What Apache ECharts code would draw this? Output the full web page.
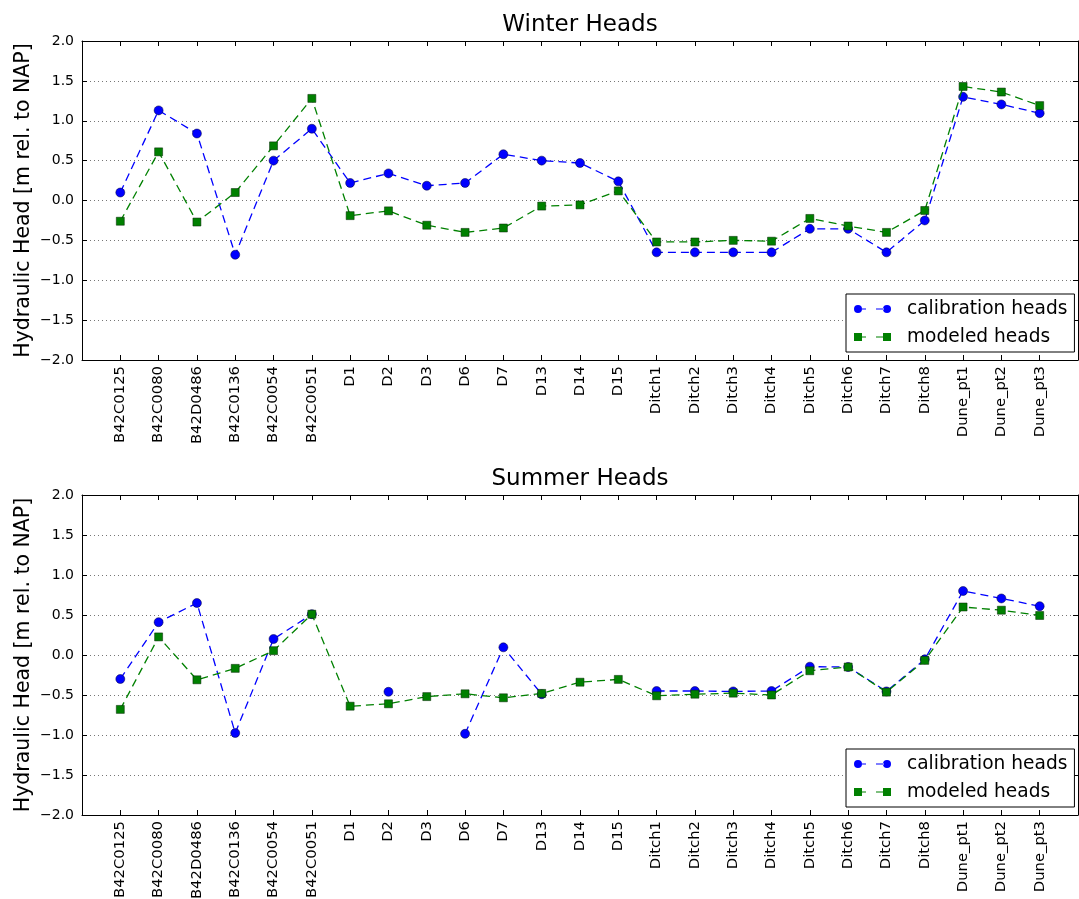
<!DOCTYPE html>
<html>
<head>
<meta charset="utf-8">
<title>Winter and Summer Heads</title>
<script src="https://cdn.jsdelivr.net/npm/echarts@6/dist/echarts.min.js"></script>
<style>
  html, body { margin: 0; padding: 0; background: #fff; }
  #chart { width: 1079px; height: 899px; }
</style>
</head>
<body>
<div id="chart"></div>
<script>
// Observation locations along the x axis
const categories = ['B42C0125', 'B42C0080', 'B42D0486', 'B42C0136', 'B42C0054', 'B42C0051',
  'D1', 'D2', 'D3', 'D6', 'D7', 'D13', 'D14', 'D15',
  'Ditch1', 'Ditch2', 'Ditch3', 'Ditch4', 'Ditch5', 'Ditch6', 'Ditch7', 'Ditch8',
  'Dune_pt1', 'Dune_pt2', 'Dune_pt3'];

// Winter heads [m rel. to NAP]
const winterCalibration = [0.10, 1.13, 0.84, -0.68, 0.50, 0.90,
  0.22, 0.34, 0.185, 0.22, 0.58, 0.50, 0.47, 0.24,
  -0.65, -0.65, -0.65, -0.65, -0.355, -0.355, -0.65, -0.25,
  1.30, 1.205, 1.095];
const winterModeled = [-0.26, 0.61, -0.27, 0.10, 0.685, 1.28,
  -0.19, -0.13, -0.31, -0.40, -0.345, -0.07, -0.055, 0.12,
  -0.52, -0.52, -0.50, -0.51, -0.225, -0.32, -0.40, -0.125,
  1.43, 1.36, 1.19];

// Summer heads [m rel. to NAP]; null = no calibration measurement
const summerCalibration = [-0.30, 0.41, 0.65, -0.975, 0.20, 0.51,
  null, -0.46, null, -0.985, 0.096, -0.49, null, null,
  -0.45, -0.45, -0.455, -0.45, -0.146, -0.15, -0.455, -0.054,
  0.80, 0.707, 0.61];
const summerModeled = [-0.68, 0.226, -0.31, -0.167, 0.054, 0.51,
  -0.64, -0.61, -0.52, -0.485, -0.535, -0.48, -0.34, -0.305,
  -0.51, -0.49, -0.477, -0.50, -0.197, -0.15, -0.464, -0.067,
  0.60, 0.56, 0.494];

const yTicks = [-2.0, -1.5, -1.0, -0.5, 0.0, 0.5, 1.0, 1.5, 2.0];
const seriesNames = ['calibration heads', 'modeled heads'];
const chartTitles = ['Winter Heads', 'Summer Heads'];
const yAxisTitle = 'Hydraulic Head [m rel. to NAP]';

const FONT = 'DejaVu Sans';
const BLUE = '#0000ff';
const GREEN = '#008000';
const DASH = [8, 5];

const chart = echarts.init(document.getElementById('chart'), null, { renderer: 'canvas' });

const pairs = arr => arr.map((v, i) => [i, v]);
const fmtY = v => {
  const r = Math.round(v * 10) / 10;
  return (r < 0 ? '\u2212' : '') + Math.abs(r).toFixed(1);
};

// Legend keys: marker, dashed line segment, marker
const circleAt = cx => `M${cx - 4},4 A4,4 0 1,0 ${cx + 4},4 A4,4 0 1,0 ${cx - 4},4 Z`;
const squareAt = cx => `M${cx - 4},0 L${cx + 4},0 L${cx + 4},8 L${cx - 4},8 Z`;
const dashes = 'M8,3.4 L12,3.4 L12,4.6 L8,4.6 Z M22,3.4 L30,3.4 L30,4.6 L22,4.6 Z';
const legendIcons = [
  'path://' + circleAt(4) + ' ' + dashes + ' ' + circleAt(33),
  'path://' + squareAt(4) + ' ' + dashes + ' ' + squareAt(33)
];

// Fixed plot rectangles; station names may run off the bottom edge
const grids = [
  { left: 82, right: 1, top: 41, height: 319, outerBoundsMode: 'none', containLabel: false },
  { left: 82, right: 1, top: 495, height: 320, outerBoundsMode: 'none', containLabel: false }
];

const frameLine = { show: true, onZero: false, lineStyle: { color: '#000', width: 1 } };
const inTick = { show: true, inside: true, length: 5, lineStyle: { color: '#000' } };

const xAxes = [];
const yAxes = [];
grids.forEach((g, gi) => {
  // bottom axis with rotated station names
  xAxes.push({
    type: 'value', gridIndex: gi, position: 'bottom', min: -1, max: 25, interval: 1,
    axisLine: frameLine, axisTick: inTick,
    axisLabel: {
      rotate: 90, margin: 6, fontFamily: FONT, fontSize: 14.8, color: '#000',
      formatter: v => (v >= 0 && v < categories.length ? categories[v] : ''),
      showMinLabel: false, showMaxLabel: false
    },
    splitLine: { show: false }
  });
  // top frame with tick marks
  xAxes.push({
    type: 'value', gridIndex: gi, position: 'top', min: -1, max: 25, interval: 1,
    axisLine: frameLine, axisTick: inTick,
    axisLabel: { show: false },
    splitLine: { show: false }
  });
  yAxes.push({
    type: 'value', gridIndex: gi, position: 'left', min: yTicks[0], max: yTicks[yTicks.length - 1], interval: 0.5,
    name: yAxisTitle, nameLocation: 'middle', nameGap: 48, nameRotate: 90, nameMoveOverlap: false,
    nameTextStyle: { fontFamily: FONT, fontSize: 20.5, color: '#000' },
    axisLine: frameLine, axisTick: inTick,
    axisLabel: { fontFamily: FONT, fontSize: 14, color: '#000', margin: 8, formatter: fmtY },
    splitLine: { show: true, lineStyle: { color: '#777', width: 1, type: [1, 3] } }
  });
  yAxes.push({
    type: 'value', gridIndex: gi, position: 'right', min: yTicks[0], max: yTicks[yTicks.length - 1], interval: 0.5,
    axisLine: frameLine, axisTick: inTick,
    axisLabel: { show: false },
    splitLine: { show: false }
  });
});

function makeSeries(gi, calib, model) {
  return [
    {
      name: seriesNames[0], type: 'line', xAxisIndex: gi * 2, yAxisIndex: gi * 2,
      data: pairs(calib), connectNulls: false,
      symbol: 'circle', symbolSize: 9, showAllSymbol: true,
      itemStyle: { color: BLUE, borderColor: '#000033', borderWidth: 0.5 },
      lineStyle: { color: BLUE, width: 1.3, type: DASH },
      z: 3, animation: false
    },
    {
      name: seriesNames[1], type: 'line', xAxisIndex: gi * 2, yAxisIndex: gi * 2,
      data: pairs(model), connectNulls: false,
      symbol: 'rect', symbolSize: 8, showAllSymbol: true,
      itemStyle: { color: GREEN, borderColor: '#002200', borderWidth: 0.5 },
      lineStyle: { color: GREEN, width: 1.3, type: DASH },
      z: 4, animation: false
    }
  ];
}

const legendBase = {
  orient: 'vertical', left: 846,
  padding: [5, 7, 5, 8], itemGap: 8, itemWidth: 37, itemHeight: 8,
  backgroundColor: '#fff', borderColor: '#000', borderWidth: 1, borderRadius: 0,
  itemStyle: { borderWidth: 0 },
  textStyle: { fontFamily: FONT, fontSize: 18.6, lineHeight: 20, color: '#000', padding: [0, 0, 0, 11] },
  data: seriesNames.map((n, i) => ({ name: n, icon: legendIcons[i] })),
  selectedMode: false
};

chart.setOption({
  animation: false,
  backgroundColor: '#fff',
  title: chartTitles.map((t, i) => ({
    text: t, left: 580, textAlign: 'center', top: i === 0 ? 14 : 468, padding: 0,
    textStyle: { fontFamily: FONT, fontSize: 23, fontWeight: 'normal', color: '#000' }
  })),
  legend: [
    Object.assign({}, legendBase, { top: 294 }),
    Object.assign({}, legendBase, { top: 749 })
  ],
  grid: grids,
  xAxis: xAxes,
  yAxis: yAxes,
  series: [].concat(
    makeSeries(0, winterCalibration, winterModeled),
    makeSeries(1, summerCalibration, summerModeled)
  )
});
</script>
</body>
</html>
